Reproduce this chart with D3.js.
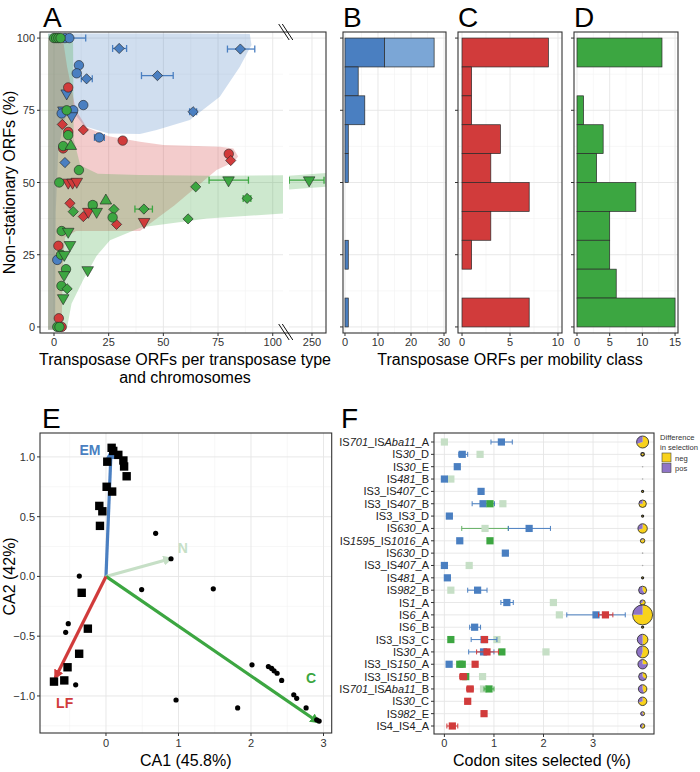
<!DOCTYPE html>
<html>
<head>
  <meta charset="utf-8">
  <title>IS mobility figure</title>
  <script src="https://d3js.org/d3.v7.min.js"></script>
  <style>
    body { margin: 0; background: #fff; }
    text { font-family: "Liberation Sans", Arial, sans-serif; }
  </style>
</head>
<body>
<svg id="fig" width="700" height="772"></svg>
<script>
// ---------- data ----------
// panel A points: [transposase ORFs, non-stationary %, shape, errLow, errHigh]
var ptsEM = [
  [5,100,"c"],[7,100,"c",3,14.5],
  [29.8,96.4,"d",26.8,33.2],[85.2,96.2,"d",79.3,91.8],
  [11.4,90.6,"c"],[10.4,87.8,"c"],[14.9,85.9,"d",12.5,17.5],[47.3,87,"d",40,54.5],
  [5.8,80.9,"v"],[13.4,76.8,"c"],[63.6,74.5,"d",62,65.2],
  [4.3,75,"v"],[3.5,73.9,"c"],[8.8,75,"c"],[8.1,73,"v"],
  [20.7,65.6,"c",18.5,23],[5,56.9,"d"],[1.5,23.2,"c"]
];
var ptsLF = [
  [6.5,82.9,"c"],[3.8,70.1,"d"],[13.4,68.2,"d"],[6.5,67.5,"c"],[31.4,64.5,"c"],
  [79.9,59.9,"c"],[80.8,57.6,"d"],[4.2,61.8,"c"],
  [6.5,50,"v"],[8.5,50,"v"],[10.4,50.3,"v"],
  [7.3,42.8,"d"],[13.4,38.2,"d"],[15.7,39.9,"v"],[28.6,35.5,"d"],[41.2,36.4,"v"],
  [2,28.1,"c"],[2.2,3,"c"],[3.5,0,"c"]
];
var ptsC = [
  [0,100,"c"],[1,100,"c"],[2,100,"c"],[3,100,"c"],
  [5.8,75,"c"],[6.5,66.4,"c"],[4.2,62.6,"c"],[7.7,62.6,"^"],
  [11.4,54.3,"c"],[2.4,50,"c"],[64.8,48.5,"d"],[79.8,50.8,"v",70.9,88.9],[248.7,50.8,"v",239.6,255.5],
  [8.8,39.9,"d"],[17.7,42.2,"c",16,19.5],[23.7,43.7,"^"],[27.4,40.7,"d"],[19.5,39.9,"v"],[26.8,37.9,"c"],
  [41.1,40.8,"d",37,45],[61.3,37.4,"d"],[88.3,44.5,"d",86.5,90],
  [3.5,33.2,"c"],[6.5,33,"v"],[7.3,28.4,"v"],[3.2,25,"c"],[4.7,25,"v"],[5.5,20,"c"],[15.4,19.7,"v"],
  [4.6,18,"v"],[3.4,14.2,"c"],[6,13.2,"d"],[4.2,10,"v"],[1.5,0,"c"],[2.5,0,"c"]
];
// panel A envelopes (data units)
var hullEM = [[-2.7,-1],[0.5,-1],[0.8,40],[2,62],[5,72],[8,75],[14,69.5],[25,67],[39.3,66.8],[46.9,68.2],
  [62.1,71.6],[75.8,79.7],[84.9,90],[90.3,97.6],[89.5,101.4],[60,101.6],[-2.7,101.6]];
var hullLF = [[-2.7,-1],[3.5,-1],[4,20],[5,31],[10,33.2],[39.3,33.2],[55,42],[74.3,54.3],[82,57],[84.2,59],
  [82,61.8],[76,62.4],[50,63],[39.3,64.1],[25,66],[15,69],[10,75],[6,90],[4,100],[-2.7,100]];
var hullC = [[-2.7,-1],[5.8,-1],[8,8],[13.4,16.3],[19.5,24.6],[25.6,30],[40,34.5],[70,37.5],[104.7,39.3],
  [104.7,52.5],[72,52.3],[39,52.6],[20,53],[12,56],[9,65],[8.7,101.4],[-2.7,101.4]];
var hullC2 = [[239.5,52.3],[256.4,53.3],[256.4,48.5],[239.5,47.6]];

// panels B-D: histogram of non-stationary % (bins of 10, top bin first)
var binLow = [90,80,70,60,50,40,30,20,10,0];
var countEM = [12,4,6,1,1,0,0,1,0,1];
var countEMextra = [15,0,0,0,0,0,0,0,0,0];
var countLF = [9,1,1,4,3,7,3,1,0,7];
var countC = [13,0,1,4,3,9,5,5,6,15];

// panel E: correspondence analysis
var caSquares = [[0.078,1.076],[0.1,1.05],[0.018,0.96],[0.17,1.017],[0.24,0.97],[0.25,0.92],[0.285,0.838],
  [0.009,0.75],[0.085,0.71],[-0.092,0.59],[-0.05,0.545],[-0.083,0.423],[-0.335,-0.137],[-0.25,-0.437],
  [-0.37,-0.647],[-0.53,-0.76],[-0.575,-0.87],[-0.717,-0.88]];
var caCircles = [[-0.368,0.003],[0.685,0.361],[0.897,0.148],[0.492,-0.11],[1.48,-0.104],[-0.52,-0.395],
  [-0.556,-0.468],[-0.418,-0.907],[0.966,-1.034],[1.816,-1.1],[2.014,-0.74],[2.24,-0.754],[2.285,-0.77],
  [2.318,-0.79],[2.36,-0.81],[2.423,-0.87],[2.59,-0.99],[2.63,-1.02],[2.76,-1.1],[2.906,-1.2],[2.94,-1.21]];
var caClasses = ["EM","N","C","LF"];
var caArrowX = [0.07,0.9,2.93,-0.7];
var caArrowY = [1.05,0.15,-1.22,-0.85];
var caLabelX = [-0.22,1.06,2.83,-0.57];
var caLabelY = [1.06,0.24,-0.85,-1.06];

// panel F: codon sites selected
var rowLabels = ["IS*701*_IS*Aba11*_A","IS*30*_D","IS*30*_E","IS*481*_B","IS3_IS*407*_C","IS3_IS*407*_B",
  "IS3_IS*3*_D","IS*630*_A","IS*1595*_IS*1016*_A","IS*630*_D","IS3_IS*407*_A","IS*481*_A","IS*982*_B",
  "IS*1*_A","IS*6*_A","IS*6*_B","IS3_IS*3*_C","IS*30*_A","IS3_IS*150*_A","IS3_IS*150*_B",
  "IS*701*_IS*Aba11*_B","IS*30*_C","IS*982*_E","IS4_IS4_A"];
// [row, value, low, high]
var selN = [[0,0.0],[1,0.72],[3,0.13],[5,1.18],[7,0.82,0.35,1.29],[10,0.5],[12,0.13],[13,2.2],[14,2.32],
  [16,1.06],[17,2.05],[19,0.77],[20,0.79]];
var selEM = [[0,1.15,0.94,1.37],[1,0.36,0.29,0.47],[2,0.26],[3,0.0],[4,0.74],[5,0.78,0.56,1.01],[6,0.1],
  [7,1.71,1.29,2.14],[8,0.31],[9,1.23],[10,0.0],[11,0.06,0.02,0.1],[12,0.67,0.47,0.86],[13,1.26,1.14,1.39],
  [14,3.06,2.47,3.65],[15,0.61,0.51,0.73],[16,0.8,0.54,1.06],[17,0.79,0.49,1.0],[18,0.095]];
var selC = [[5,0.92],[8,0.92],[16,0.13],[17,1.16],[18,0.31],[18,0.36],[19,0.43],[20,0.9,0.8,1.0]];
var selLF = [[14,3.25,3.11,3.4],[16,0.81],[17,0.86,0.65,1.09],[18,0.62],[19,0.38,0.31,0.45],
  [20,0.52,0.45,0.58],[21,0.47],[22,0.8],[23,0.16,0.05,0.27]];
var pieTotal = [36,3,0,0,1,14,1,22,5,0,0,1,16,7,100,1,28,36,22,16,18,18,4,5];
var pieShare = [0.3,0.1,0,0,0,0.25,0,0.3,0.15,0,0,0,0.6,0.3,0.25,0,0.5,0.45,0.75,0.65,0.55,0.3,0.6,0.4];

// ---------- styles ----------
var ink = "#333333", gridMajor = "#e5e5e5", gridMinor = "#f2f2f2";
var colEM = "#4a7fc1", colEMlight = "#7ba6d6", colLF = "#d13b3b", colC = "#3ca641", colN = "#c6dfc6";
var colNeg = "#f8d21c", colPos = "#8f74c6";
var classColor = {EM: colEM, N: colN, C: colC, LF: colLF};

var svg = d3.select("#fig");
var defs = svg.append("defs");

function vline(g, x, y0, y1, col, w) {
  g.append("line").attr("x1", x).attr("x2", x).attr("y1", y0).attr("y2", y1)
    .attr("stroke", col).attr("stroke-width", w);
}
function hline(g, y, x0, x1, col, w) {
  g.append("line").attr("x1", x0).attr("x2", x1).attr("y1", y).attr("y2", y)
    .attr("stroke", col).attr("stroke-width", w);
}
function border(g, x0, y0, x1, y1) {
  g.append("rect").attr("x", x0).attr("y", y0).attr("width", x1 - x0).attr("height", y1 - y0)
    .attr("fill", "none").attr("stroke", ink).attr("stroke-width", 1.1);
}
function letter(t, x, y) {
  svg.append("text").attr("x", x).attr("y", y).attr("font-size", 28).text(t);
}
function tickLabel(g, t, x, y, anchor) {
  g.append("text").attr("x", x).attr("y", y).attr("font-size", 11).attr("fill", "#333")
    .attr("text-anchor", anchor).text(t);
}
function title(g, t, x, y) {
  return g.append("text").attr("x", x).attr("y", y).attr("text-anchor", "middle").attr("font-size", 16).text(t);
}

// ---------- panel A ----------
var yA = d3.scaleLinear().domain([-2.1, 102.1]).range([333, 32]);
var xA = d3.scaleLinear().domain([-6.4, 104.7]).range([40, 283]);
var xA2 = d3.scaleLinear().domain([239.5, 256.4]).range([289, 326]);
var gA = svg.append("g");

defs.append("clipPath").attr("id", "clipA1").append("rect")
  .attr("x", 40).attr("y", 32).attr("width", 243).attr("height", 301);
defs.append("clipPath").attr("id", "clipA2").append("rect")
  .attr("x", 289).attr("y", 32).attr("width", 37).attr("height", 301);

var a1 = gA.append("g").attr("clip-path", "url(#clipA1)");
var a2 = gA.append("g").attr("clip-path", "url(#clipA2)");

[12.5, 37.5, 62.5, 87.5].forEach(function(v) {
  hline(a1, yA(v), 40, 283, gridMinor, 0.6); hline(a2, yA(v), 289, 326, gridMinor, 0.6);
  vline(a1, xA(v), 32, 333, gridMinor, 0.6);
});
[0, 25, 50, 75, 100].forEach(function(v) {
  hline(a1, yA(v), 40, 283, gridMajor, 0.9); hline(a2, yA(v), 289, 326, gridMajor, 0.9);
  vline(a1, xA(v), 32, 333, gridMajor, 0.9);
});
vline(a2, xA2(250), 32, 333, gridMajor, 0.9);

var hullLine1 = d3.line().x(function(d) { return xA(d[0]); }).y(function(d) { return yA(d[1]); })
  .curve(d3.curveLinearClosed);
var hullLine2 = d3.line().x(function(d) { return xA2(d[0]); }).y(function(d) { return yA(d[1]); })
  .curve(d3.curveLinearClosed);
[[hullEM, colEM], [hullLF, colLF], [hullC, colC]].forEach(function(h) {
  a1.append("path").attr("d", hullLine1(h[0])).attr("fill", h[1]).attr("fill-opacity", 0.26);
});
a2.append("path").attr("d", hullLine2(hullC2)).attr("fill", colC).attr("fill-opacity", 0.26);

var symType = {c: d3.symbolCircle, d: d3.symbolSquare, v: d3.symbolTriangle, "^": d3.symbolTriangle};
var symSize = {c: 70, d: 52, v: 58, "^": 58};
var symRot = {c: 0, d: 45, v: 180, "^": 0};

function errorsA(pts, col) {
  pts.forEach(function(p) {
    if (p[3] == null) return;
    var sx = p[0] > 200 ? xA2 : xA;
    var g = p[0] > 200 ? a2 : a1;
    var y = yA(p[1]);
    hline(g, y, sx(p[3]), sx(p[4]), col, 1.3);
    vline(g, sx(p[3]), y - 3.5, y + 3.5, col, 1.3);
    vline(g, sx(p[4]), y - 3.5, y + 3.5, col, 1.3);
  });
}
function pointsA(pts, col) {
  pts.forEach(function(p) {
    var sx = p[0] > 200 ? xA2 : xA;
    var g = p[0] > 200 ? a2 : a1;
    g.append("path")
      .attr("d", d3.symbol().type(symType[p[2]]).size(symSize[p[2]])())
      .attr("transform", "translate(" + sx(p[0]) + "," + yA(p[1]) + ") rotate(" + symRot[p[2]] + ")")
      .attr("fill", col).attr("stroke", "#222").attr("stroke-width", 0.6);
  });
}
errorsA(ptsEM, colEM); errorsA(ptsLF, colLF); errorsA(ptsC, colC);
pointsA(ptsEM, colEM); pointsA(ptsLF, colLF); pointsA(ptsC, colC);

border(gA, 40, 32, 326, 333);
// axis break marks
[32, 332].forEach(function(yb) {
  [-1.8, 1.8].forEach(function(dx) {
    gA.append("line").attr("x1", 280.5 + dx).attr("y1", yb - 8).attr("x2", 291 + dx).attr("y2", yb + 8)
      .attr("stroke", "#111").attr("stroke-width", 1);
  });
});
[0, 25, 50, 75, 100].forEach(function(v) {
  hline(gA, yA(v), 37, 40, ink, 1);
  tickLabel(gA, v, 35, yA(v) + 4, "end");
  vline(gA, xA(v), 333, 336, ink, 1);
  tickLabel(gA, v, xA(v), 346, "middle");
});
vline(gA, xA2(250), 333, 336, ink, 1);
tickLabel(gA, 250, xA2(250), 346, "middle");

gA.append("text").attr("transform", "translate(15," + yA(50) + ") rotate(-90)")
  .attr("text-anchor", "middle").attr("font-size", 16).text("Non\u2212stationary ORFs (%)");
title(gA, "Transposase ORFs per transposase type", 185, 365);
title(gA, "and chromosomes", 185, 383);
letter("A", 43, 27);

// ---------- panels B, C, D ----------
var barPanels = [
  {tag: "B", x0: 343, x1: 446, dom: [-0.6, 30.6], ticks: [0, 10, 20, 30], minor: [5, 15, 25],
   series: [[countEM, colEM], [countEMextra, colEMlight]]},
  {tag: "C", x0: 458, x1: 562, dom: [-0.42, 10.42], ticks: [0, 5, 10], minor: [2.5, 7.5],
   series: [[countLF, colLF]]},
  {tag: "D", x0: 574, x1: 678, dom: [-0.46, 15.45], ticks: [0, 5, 10, 15], minor: [2.5, 7.5, 12.5],
   series: [[countC, colC]]}
];
barPanels.forEach(function(p) {
  var g = svg.append("g");
  var x = d3.scaleLinear().domain(p.dom).range([p.x0, p.x1]);
  [12.5, 37.5, 62.5, 87.5].forEach(function(v) { hline(g, yA(v), p.x0, p.x1, gridMinor, 0.6); });
  p.minor.forEach(function(v) { vline(g, x(v), 32, 333, gridMinor, 0.6); });
  [0, 25, 50, 75, 100].forEach(function(v) { hline(g, yA(v), p.x0, p.x1, gridMajor, 0.9); });
  p.ticks.forEach(function(v) { vline(g, x(v), 32, 333, gridMajor, 0.9); });
  var stackBase = binLow.map(function() { return 0; });
  p.series.forEach(function(s) {
    binLow.forEach(function(lo, i) {
      var n = s[0][i];
      if (n > 0) {
        g.append("rect").attr("x", x(stackBase[i])).attr("width", x(stackBase[i] + n) - x(stackBase[i]))
          .attr("y", yA(lo + 10)).attr("height", yA(lo) - yA(lo + 10))
          .attr("fill", s[1]).attr("stroke", "#2a2a2a").attr("stroke-width", 0.7);
      }
      stackBase[i] += n;
    });
  });
  border(g, p.x0, 32, p.x1, 333);
  [0, 25, 50, 75, 100].forEach(function(v) { hline(g, yA(v), p.x0 - 3, p.x0, ink, 1); });
  p.ticks.forEach(function(v) {
    vline(g, x(v), 333, 336, ink, 1);
    tickLabel(g, v, x(v), 346, "middle");
  });
  letter(p.tag, p.x0, 27);
});
title(svg, "Transposase ORFs per mobility class", 510, 365);

// ---------- panel E ----------
var xE = d3.scaleLinear().domain([-0.91, 3.113]).range([40, 331.7]);
var yE = d3.scaleLinear().domain([-1.31, 1.2]).range([733, 433]);
var gE = svg.append("g");
[-0.5, 0.5, 1.5, 2.5].forEach(function(v) { vline(gE, xE(v), 433, 733, gridMinor, 0.6); });
[-1.25, -0.75, -0.25, 0.25, 0.75].forEach(function(v) { hline(gE, yE(v), 40, 331.7, gridMinor, 0.6); });
[0, 1, 2, 3].forEach(function(v) { vline(gE, xE(v), 433, 733, gridMajor, 0.9); });
[-1, -0.5, 0, 0.5, 1].forEach(function(v) { hline(gE, yE(v), 40, 331.7, gridMajor, 0.9); });

caClasses.forEach(function(c) {
  defs.append("marker").attr("id", "arrow" + c).attr("viewBox", "0 0 10 10")
    .attr("refX", 8).attr("refY", 5).attr("markerWidth", 10).attr("markerHeight", 10)
    .attr("markerUnits", "userSpaceOnUse").attr("orient", "auto")
    .append("path").attr("d", "M0,0 L10,5 L0,10 z").attr("fill", classColor[c]);
});
caClasses.forEach(function(c, i) {
  gE.append("line").attr("x1", xE(0)).attr("y1", yE(0)).attr("x2", xE(caArrowX[i])).attr("y2", yE(caArrowY[i]))
    .attr("stroke", classColor[c]).attr("stroke-width", 3.2).attr("marker-end", "url(#arrow" + c + ")");
});
caCircles.forEach(function(d) {
  gE.append("circle").attr("cx", xE(d[0])).attr("cy", yE(d[1])).attr("r", 2.6).attr("fill", "#000");
});
caSquares.forEach(function(d) {
  gE.append("rect").attr("x", xE(d[0]) - 4.2).attr("y", yE(d[1]) - 4.2).attr("width", 8.4).attr("height", 8.4)
    .attr("fill", "#000");
});
caClasses.forEach(function(c, i) {
  gE.append("text").attr("x", xE(caLabelX[i])).attr("y", yE(caLabelY[i]) + 5)
    .attr("text-anchor", "middle").attr("font-size", 14).attr("font-weight", "bold")
    .attr("fill", classColor[c]).text(c);
});
border(gE, 40, 433, 331.7, 733);
[0, 1, 2, 3].forEach(function(v) {
  vline(gE, xE(v), 733, 736, ink, 1);
  tickLabel(gE, v, xE(v), 747, "middle");
});
[-1, -0.5, 0, 0.5, 1].forEach(function(v) {
  hline(gE, yE(v), 37, 40, ink, 1);
  tickLabel(gE, (v < 0 ? "\u2212" : "") + Math.abs(v).toFixed(1), 35, yE(v) + 4, "end");
});
title(gE, "CA1 (45.8%)", xE(1.1), 766);
gE.append("text").attr("transform", "translate(15," + yE(0) + ") rotate(-90)")
  .attr("text-anchor", "middle").attr("font-size", 16).text("CA2 (42%)");
letter("E", 42, 428);

// ---------- panel F ----------
var xF = d3.scaleLinear().domain([-0.21, 4.23]).range([434, 654]);
var yF = d3.scalePoint().domain(d3.range(rowLabels.length)).range([442, 726]);
var gF = svg.append("g");
[0.5, 1.5, 2.5, 3.5].forEach(function(v) { vline(gF, xF(v), 433, 734, gridMinor, 0.6); });
[0, 1, 2, 3].forEach(function(v) { vline(gF, xF(v), 433, 734, gridMajor, 0.9); });
rowLabels.forEach(function(l, i) { hline(gF, yF(i), 434, 654, gridMajor, 0.9); });

function errorsF(rows, col) {
  rows.forEach(function(r) {
    if (r[2] == null) return;
    var y = yF(r[0]);
    hline(gF, y, xF(r[2]), xF(r[3]), col, 1);
    vline(gF, xF(r[2]), y - 2.5, y + 2.5, col, 1);
    vline(gF, xF(r[3]), y - 2.5, y + 2.5, col, 1);
  });
}
function pointsF(rows, col) {
  rows.forEach(function(r) {
    gF.append("rect").attr("x", xF(r[1]) - 3.6).attr("y", yF(r[0]) - 3.6).attr("width", 7.2).attr("height", 7.2)
      .attr("fill", col);
  });
}
[[selN, colN, "#64b064"], [selEM, colEM, colEM], [selC, colC, colC], [selLF, colLF, colLF]].forEach(function(s) {
  errorsF(s[0], s[2]);
  pointsF(s[0], s[1]);
});

var pieR = d3.scaleSqrt().domain([0, 100]).range([0, 10]);
var pie = d3.pie().sort(null);
rowLabels.forEach(function(l, i) {
  var cx = xF(4), cy = yF(i);
  if (pieTotal[i] === 0) {
    gF.append("circle").attr("cx", cx).attr("cy", cy).attr("r", 0.8).attr("fill", "#aaa");
    return;
  }
  var r = pieR(pieTotal[i]);
  var arcs = pie([1 - pieShare[i], pieShare[i]]);
  var arc = d3.arc().innerRadius(0).outerRadius(r);
  var pg = gF.append("g").attr("transform", "translate(" + cx + "," + cy + ")");
  arcs.forEach(function(a, k) {
    if (a.value > 0) pg.append("path").attr("d", arc(a)).attr("fill", k === 0 ? colNeg : colPos);
  });
  pg.append("circle").attr("r", r).attr("fill", "none").attr("stroke", "#222").attr("stroke-width", r < 2 ? 1.2 : 0.8);
});

border(gF, 434, 433, 654, 734);
rowLabels.forEach(function(l, i) {
  hline(gF, yF(i), 431, 434, ink, 1);
  var t = gF.append("text").attr("x", 429).attr("y", yF(i) + 4).attr("text-anchor", "end")
    .attr("font-size", 11).attr("fill", "#222");
  l.split("*").forEach(function(part, k) {
    if (part) t.append("tspan").attr("font-style", k % 2 ? "italic" : "normal").text(part);
  });
});
[0, 1, 2, 3].forEach(function(v) {
  vline(gF, xF(v), 734, 737, ink, 1);
  tickLabel(gF, v, xF(v), 747, "middle");
});
title(gF, "Codon sites selected (%)", 542, 766);
letter("F", 341, 428);

// legend
var lg = svg.append("g");
lg.append("text").attr("x", 660).attr("y", 440).attr("font-size", 7.6).attr("fill", "#333").text("Difference");
lg.append("text").attr("x", 660).attr("y", 449.5).attr("font-size", 7.6).attr("fill", "#333").text("in selection");
[["neg", colNeg], ["pos", colPos]].forEach(function(k, i) {
  lg.append("rect").attr("x", 662).attr("y", 453 + i * 10.5).attr("width", 9).attr("height", 9)
    .attr("fill", k[1]).attr("stroke", "#444").attr("stroke-width", 0.6);
  lg.append("text").attr("x", 675).attr("y", 460.5 + i * 10.5).attr("font-size", 7.6).attr("fill", "#333").text(k[0]);
});
</script>
</body>
</html>
